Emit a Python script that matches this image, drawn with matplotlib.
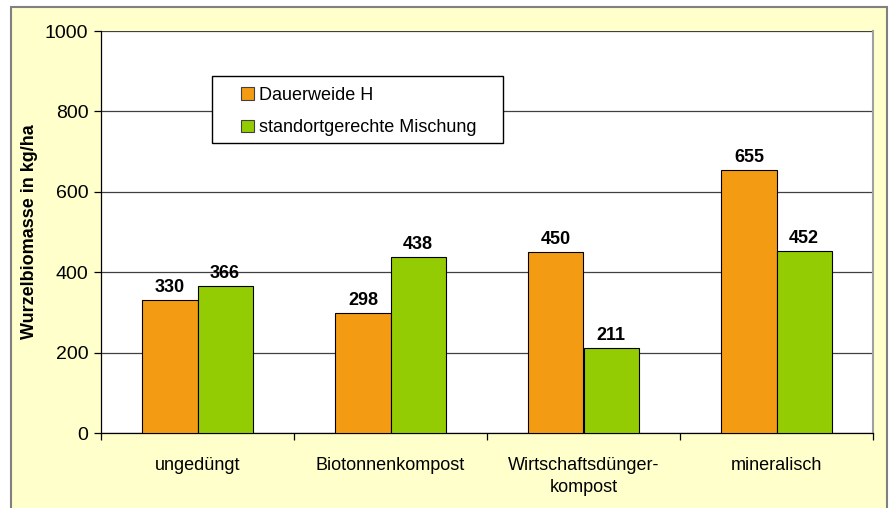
import numpy as np
import matplotlib.pyplot as plt
import matplotlib.patches as mpatches

plt.rcParams['font.family'] = ['Liberation Sans', 'DejaVu Sans']

# --- Daten ---
kategorien = ['ungedüngt', 'Biotonnenkompost', 'Wirtschaftsdünger-\nkompost', 'mineralisch']
dauerweide = [330, 298, 450, 655]
mischung = [366, 438, 211, 452]
serien = ['Dauerweide H', 'standortgerechte Mischung']

FARBE_ORANGE = '#F49B14'
FARBE_GRUEN = '#94CC04'
HINTERGRUND = '#FFFFCC'

fig = plt.figure(figsize=(8.9, 5.08), dpi=100)
fig.patch.set_facecolor('white')

# gelber Diagrammbereich mit Rahmen
rahmen = mpatches.Rectangle((11 / 890, -0.01), 876 / 890, (508 - 7) / 508 + 0.01,
                            transform=fig.transFigure, facecolor=HINTERGRUND,
                            edgecolor='#808080', linewidth=1.5, zorder=-10)
fig.patches.append(rahmen)

ax = fig.add_axes([101 / 890, 1 - 433 / 508, 772 / 890, 402 / 508])
ax.set_zorder(1)
ax.set_facecolor('white')

x = np.arange(len(kategorien))
breite = 0.285

b1 = ax.bar(x - breite / 2, dauerweide, breite, color=FARBE_ORANGE,
            edgecolor='black', linewidth=0.8, label=serien[0], zorder=3)
b2 = ax.bar(x + breite / 2, mischung, breite, color=FARBE_GRUEN,
            edgecolor='black', linewidth=0.8, label=serien[1], zorder=3)

ax.bar_label(b1, padding=3, fontsize=13, fontweight='bold')
ax.bar_label(b2, padding=3, fontsize=13, fontweight='bold')

ax.set_xlim(-0.5, len(kategorien) - 0.5)
ax.set_ylim(0, 1000)
ax.set_yticks(np.arange(0, 1001, 200))
ax.yaxis.grid(True, color='#404040', linewidth=0.9, zorder=1)
ax.set_axisbelow(True)

# Kategorienbeschriftung mittig, Teilstriche an den Grenzen
ax.set_xticks(x)
ax.set_xticklabels(kategorien, fontsize=13, linespacing=1.45)
ax.tick_params(axis='x', length=0, pad=17)
ax.set_xticks(np.arange(-0.5, len(kategorien)), minor=True)
ax.tick_params(axis='x', which='minor', length=5, width=0.9, direction='out')
ax.tick_params(axis='y', labelsize=14, length=5, width=0.9, direction='out', pad=4)

ax.spines['top'].set_visible(False)
ax.spines['right'].set_color('#A0A0A0')
ax.spines['right'].set_linewidth(1.5)
ax.spines['left'].set_linewidth(0.9)
ax.spines['bottom'].set_linewidth(0.9)

ax.set_ylabel('Wurzelbiomasse in kg/ha', fontsize=13, fontweight='bold', labelpad=5)

# Legendenrahmen separat, damit links mehr Platz bleibt
leg_rahmen = mpatches.Rectangle((111 / 772, 290 / 402), 291 / 772, 67 / 402,
                                transform=ax.transAxes, facecolor='white',
                                edgecolor='black', linewidth=1.0, zorder=4)
ax.add_patch(leg_rahmen)
leg = ax.legend(loc='upper left', bbox_to_anchor=(140 / 772, 346 / 402), fontsize=13,
                frameon=False, handlelength=0.7, handleheight=0.7, handletextpad=0.3,
                borderpad=0, labelspacing=0.85, borderaxespad=0)
for h in leg.legend_handles:
    h.set_edgecolor('#404040')
leg.set_zorder(5)

fig.savefig('out.png', dpi=100, facecolor=fig.get_facecolor())
